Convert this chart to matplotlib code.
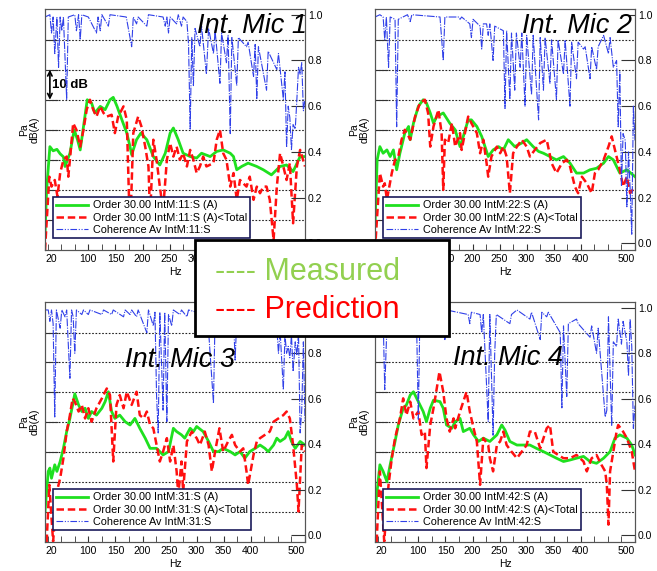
import matplotlib
matplotlib.use("Agg")
import matplotlib.pyplot as plt
from matplotlib.patches import Rectangle
from matplotlib.lines import Line2D
from matplotlib.ticker import MultipleLocator

plt.rcParams["font.family"] = ["Liberation Sans", "DejaVu Sans"]

# ---- data: (Hz, dB(A)) and (Hz, coherence) ----
green_mic1 = [(20, 5), (23, 20), (29, 34.4), (35, 33), (42, 33.5), (48, 32), (54, 31), (57, 27.8),
              (66, 32.2), (74, 40), (80, 36.7), (85, 33.3), (91, 41), (98, 50), (106, 48.9),
              (112, 45.6), (122, 47.8), (131, 46.7), (140, 50), (146, 50.8), (153, 47.8),
              (162, 43.3), (171, 38.9), (177, 34.4), (180, 31.7), (189, 36.7), (197, 38.9),
              (208, 36.7), (220, 31.1), (232, 28.3), (242, 32.2), (251, 38.9), (257, 40.6),
              (266, 36.7), (275, 32.2), (288, 31.1), (300, 30.6), (309, 32.2), (325, 31.1),
              (337, 32.8), (349, 33.3), (362, 32.2), (368, 31.1), (374, 26.7), (383, 27.8),
              (395, 28.9), (411, 27.8), (423, 26.7), (438, 25), (454, 27.8), (466, 28.3),
              (478, 26.1), (491, 31.1), (500, 31.1)]
red_mic1 = [(20, 0), (28, 24.4), (32, 21.1), (38, 23.3), (43, 17.8), (48, 25.6), (54, 30), (60, 31.1),
            (63, 24.4), (66, 30), (72, 42.2), (78, 40), (85, 34.4), (91, 40), (97, 46.7), (103, 50),
            (109, 46.7), (115, 44.4), (122, 47.8), (128, 45.6), (134, 44.4), (143, 45), (149, 38.9),
            (155, 44.4), (165, 47.8), (171, 43.3), (177, 5), (183, 38.9), (192, 44.4), (198, 41.1),
            (205, 34.4), (211, 27.8), (214, 11.1), (220, 36.7), (226, 30), (232, 21.1), (238, 13.3),
            (245, 30), (251, 35.6), (257, 31.1), (263, 34.4), (269, 30), (275, 32.2), (282, 27.8),
            (288, 33.3), (294, 30), (300, 25.6), (306, 27.8), (312, 31.1), (318, 27.8), (331, 28.9),
            (337, 36.7), (343, 40), (349, 32.2), (355, 30), (362, 21.1), (368, 25.6), (374, 16.7),
            (380, 23.3), (392, 21.1), (398, 24.4), (405, 16.7), (411, 21.1), (417, 18.9), (423, 21.1),
            (429, 21.1), (435, 16.7), (442, 3.3), (448, 21.1), (454, 32.2), (460, 27.8), (466, 23.3),
            (472, 28.9), (478, 8.9), (485, 27.8), (491, 33.3), (500, 27.8)]
coh_mic1 = [(20, 0.99), (29, 1.0), (32, 0.92), (35, 0.99), (38, 0.83), (42, 0.99), (45, 0.77), (48, 0.99),
            (51, 0.93), (54, 0.99), (60, 0.63), (63, 0.99), (75, 1.0), (78, 0.93), (82, 1.0), (85, 0.89),
            (88, 1.0), (100, 0.99), (115, 0.92), (118, 0.99), (122, 0.93), (125, 1.0), (137, 0.95),
            (140, 1.0), (170, 0.99), (180, 0.86), (183, 0.99), (189, 0.96), (192, 0.99), (208, 0.95),
            (211, 1.0), (238, 0.99), (242, 0.95), (245, 0.99), (248, 0.92), (251, 0.99), (263, 0.96),
            (266, 1.0), (272, 0.95), (275, 0.99), (282, 0.97), (285, 0.87), (288, 0.50), (291, 0.90),
            (294, 0.69), (297, 0.94), (306, 0.86), (309, 0.95), (318, 0.74), (322, 0.94), (331, 0.83),
            (334, 0.93), (343, 0.70), (346, 0.92), (355, 0.79), (358, 0.91), (362, 0.48), (365, 0.90),
            (374, 0.69), (377, 0.90), (392, 0.86), (395, 0.88), (405, 0.73), (408, 0.87), (411, 0.63),
            (414, 0.86), (429, 0.67), (432, 0.84), (448, 0.76), (451, 0.83), (460, 0.63), (463, 0.75),
            (466, 0.42), (469, 0.60), (472, 0.55), (475, 0.41), (478, 0.52), (482, 0.50), (485, 0.63),
            (488, 0.77), (491, 0.74), (494, 0.79), (497, 0.58), (500, 0.63)]

green_mic2 = [(20, 8), (24, 30), (29, 34.4), (35, 32.2), (42, 33.3), (48, 31.1), (54, 33.3), (60, 26.7),
              (66, 32.2), (69, 34.4), (75, 38.9), (82, 41.1), (85, 36.7), (91, 42.2), (100, 47.8),
              (109, 50), (115, 48.9), (122, 45.6), (128, 42.2), (134, 44.4), (146, 45.6), (158, 42.2),
              (168, 40), (177, 34.4), (183, 37.8), (192, 43.3), (198, 43.3), (208, 41.1), (217, 37.8),
              (229, 31.1), (238, 33.3), (248, 34.4), (257, 33.3), (266, 36.7), (278, 34.4),
              (291, 35.6), (300, 36.7), (312, 34.4), (322, 32.8), (331, 32.2), (343, 31.1), (355, 30),
              (368, 31.1), (380, 28.9), (392, 25.6), (405, 25.6), (417, 26.7), (429, 27.2), (442, 28.9),
              (451, 31.1), (460, 30), (472, 25.6), (485, 26.7), (500, 24.4)]
red_mic2 = [(20, 0), (29, 25.6), (35, 21.1), (38, 22.2), (42, 16.7), (51, 25.6), (57, 30), (63, 31.1),
            (69, 36.7), (75, 40), (82, 37.8), (85, 36.7), (94, 44.4), (103, 48.9), (112, 50), (118, 45.6),
            (122, 34.4), (128, 41.1), (137, 46.7), (143, 38.9), (146, 20), (149, 36.7), (155, 35.6),
            (162, 42.2), (168, 34.4), (177, 38.9), (180, 33.3), (192, 44.4), (198, 42.2), (208, 38.9),
            (214, 32.2), (220, 36.7), (226, 28.9), (229, 24.4), (235, 31.1), (245, 34.4), (251, 32.2),
            (257, 34.4), (263, 31.1), (269, 18.9), (275, 32.2), (282, 34.4), (291, 36.7), (300, 34.4),
            (306, 31.1), (315, 33.3), (325, 35.6), (337, 36.7), (346, 28.9), (355, 25.6), (365, 28.9),
            (374, 30), (380, 27.8), (389, 21.1), (395, 18.9), (402, 24.4), (411, 22.2), (420, 18.9),
            (426, 25.6), (432, 26.7), (442, 30), (451, 34.4), (457, 37.8), (463, 33.3), (472, 26.7),
            (478, 21.1), (485, 24.4), (491, 18.9), (500, 21.1)]
coh_mic2 = [(20, 0.99), (29, 1.0), (35, 0.99), (38, 0.89), (41, 0.99), (45, 0.77), (48, 0.99), (57, 0.98),
            (60, 0.51), (63, 0.98), (80, 1.0), (85, 0.97), (88, 1.0), (140, 0.99), (146, 0.80),
            (149, 0.99), (174, 0.99), (177, 0.98), (180, 0.99), (195, 0.96), (198, 0.90), (201, 0.98),
            (214, 0.95), (217, 0.85), (220, 0.96), (226, 0.96), (229, 0.91), (232, 0.96), (238, 0.80),
            (241, 0.95), (257, 0.93), (260, 0.59), (263, 0.93), (269, 0.63), (272, 0.92), (278, 0.67),
            (281, 0.92), (288, 0.77), (291, 0.92), (297, 0.60), (300, 0.91), (309, 0.65), (312, 0.91),
            (322, 0.54), (325, 0.90), (331, 0.67), (334, 0.90), (343, 0.70), (346, 0.89), (355, 0.63),
            (358, 0.89), (368, 0.74), (371, 0.89), (380, 0.60), (383, 0.88), (392, 0.72), (395, 0.88),
            (405, 0.85), (408, 0.86), (417, 0.72), (420, 0.86), (429, 0.76), (432, 0.86), (442, 0.91),
            (451, 0.83), (454, 0.90), (460, 0.77), (466, 0.80), (469, 0.51), (472, 0.75), (475, 0.25),
            (478, 0.48), (482, 0.45), (485, 0.16), (488, 0.40), (491, 0.24), (494, 0.04), (497, 0.60),
            (500, 0.45)]

green_mic3 = [(20, 10.2), (26, 23.6), (29, 24.7), (32, 21.3), (38, 25.8), (42, 23.6), (48, 26.9), (54, 31.3),
              (60, 36.9), (66, 41.3), (71, 45.8), (75, 49.5), (82, 45.8), (88, 43.6), (94, 44.7),
              (100, 41.3), (106, 43.6), (115, 42.4), (125, 44.7), (131, 46.9), (137, 50.2), (143, 43.6),
              (149, 41.3), (158, 42.4), (168, 40.2), (177, 39.1), (186, 41.3), (195, 38.0), (205, 34.7),
              (214, 31.3), (226, 31.3), (232, 30.2), (238, 29.1), (248, 30.2), (257, 38.0), (263, 36.9),
              (272, 35.8), (278, 34.7), (288, 38.0), (294, 36.9), (300, 38.6), (312, 36.9), (322, 33.6),
              (331, 30.2), (340, 30.2), (349, 31.3), (362, 30.2), (371, 29.1), (380, 30.2), (389, 28.0),
              (398, 30.2), (408, 31.3), (417, 32.4), (426, 31.3), (432, 30.2), (442, 32.4), (448, 34.7),
              (454, 33.6), (463, 34.7), (469, 36.9), (475, 33.6), (482, 31.3), (491, 33.6), (500, 32.4)]
red_mic3 = [(23, 0), (28, 19.1), (32, 8.0), (35, 0.2), (42, 16.9), (48, 21.3), (54, 28.0), (60, 36.9),
            (65, 41.3), (71, 48.0), (75, 46.9), (82, 43.6), (88, 45.8), (94, 41.3), (100, 44.7),
            (106, 40.2), (115, 44.7), (125, 48.0), (134, 51.3), (140, 49.1), (146, 26.9), (152, 45.8),
            (158, 49.1), (165, 44.7), (171, 50.2), (180, 45.8), (189, 50.2), (195, 42.4), (202, 41.3),
            (208, 43.6), (214, 39.1), (220, 38.0), (226, 32.4), (232, 26.9), (238, 30.2), (245, 34.7),
            (251, 26.9), (257, 32.4), (263, 23.6), (266, 15.8), (272, 26.9), (275, 16.9), (282, 33.6),
            (291, 36.9), (300, 34.7), (306, 32.4), (315, 36.9), (322, 32.4), (328, 23.6), (334, 30.2),
            (342, 38.0), (349, 30.2), (358, 33.6), (365, 35.8), (371, 32.4), (380, 30.2), (386, 31.3),
            (392, 23.6), (395, 19.1), (405, 29.1), (411, 33.6), (417, 34.7), (426, 35.8), (435, 36.9),
            (442, 40.2), (451, 41.3), (460, 42.4), (466, 43.6), (472, 41.3), (478, 32.4), (485, 19.1),
            (488, 10.2), (494, 32.4), (500, 30.2)]
coh_mic3 = [(20, 0.99), (26, 0.99), (29, 0.94), (32, 0.99), (35, 0.93), (38, 0.52), (41, 0.99), (48, 0.91),
            (51, 0.99), (57, 0.96), (60, 0.99), (66, 0.69), (69, 0.99), (72, 0.96), (75, 0.80), (78, 0.99),
            (88, 0.97), (91, 0.99), (100, 0.97), (103, 0.99), (125, 0.97), (128, 0.99), (143, 0.97),
            (146, 0.99), (165, 0.96), (168, 0.99), (177, 0.97), (180, 0.99), (189, 0.96), (192, 0.99),
            (208, 0.89), (211, 0.99), (220, 0.92), (223, 0.98), (226, 0.61), (229, 0.45), (232, 0.98),
            (238, 0.55), (241, 0.98), (245, 0.50), (248, 0.97), (254, 0.92), (257, 0.99), (269, 0.97),
            (272, 0.99), (282, 0.96), (285, 0.99), (300, 0.98), (320, 0.97), (331, 0.58), (334, 0.96),
            (368, 0.95), (371, 0.77), (374, 0.95), (411, 0.93), (414, 0.90), (417, 0.93), (448, 0.91),
            (451, 0.80), (454, 0.90), (460, 0.64), (463, 0.88), (466, 0.80), (469, 0.83), (472, 0.78),
            (475, 0.88), (478, 0.72), (482, 0.85), (485, 0.79), (488, 0.89), (491, 0.45), (494, 0.55),
            (497, 0.85), (500, 0.50)]

green_mic4 = [(20, 10.2), (29, 25.8), (35, 23.6), (42, 20.2), (48, 25.8), (57, 33.6), (63, 39.1), (72, 44.7),
              (78, 45.8), (85, 49.1), (91, 50.2), (97, 48.0), (109, 43.6), (115, 40.2), (122, 44.7),
              (128, 47.4), (140, 46.9), (146, 44.7), (152, 39.1), (162, 38.0), (168, 40.2), (177, 41.3),
              (183, 36.9), (195, 38.0), (202, 35.8), (211, 33.6), (220, 34.7), (232, 33.6), (245, 35.8),
              (254, 39.1), (260, 37.4), (269, 33.6), (282, 32.4), (294, 32.4), (306, 32.4), (318, 31.3),
              (331, 30.2), (343, 29.1), (355, 28.0), (368, 26.9), (380, 27.4), (392, 28.0), (405, 28.6),
              (417, 26.9), (429, 26.3), (442, 28.0), (454, 30.2), (463, 34.7), (472, 35.8), (485, 34.7),
              (494, 32.4), (500, 29.1)]
red_mic4 = [(23, 0), (29, 23.6), (37, 0.2), (45, 19.1), (51, 28.0), (57, 34.7), (66, 41.3), (72, 48.0),
            (78, 42.4), (85, 46.9), (91, 41.3), (100, 43.6), (106, 35.8), (112, 36.9), (115, 24.7),
            (122, 39.1), (128, 44.7), (134, 51.3), (139, 56.9), (146, 50.2), (152, 41.3), (158, 36.9),
            (165, 41.3), (168, 38.0), (177, 43.6), (183, 46.9), (189, 50.2), (195, 43.6), (202, 38.0),
            (208, 33.6), (214, 19.1), (220, 34.7), (229, 32.4), (232, 28.0), (238, 23.6), (245, 32.4),
            (251, 33.6), (257, 36.9), (263, 32.4), (272, 30.2), (282, 28.0), (291, 30.2), (300, 32.4),
            (306, 36.9), (315, 36.9), (325, 31.3), (337, 38.0), (343, 39.1), (349, 30.2), (358, 29.1),
            (368, 28.0), (380, 28.0), (392, 29.1), (405, 26.9), (411, 23.6), (420, 28.0), (429, 29.1),
            (438, 25.8), (445, 23.6), (448, 19.1), (451, 5.8), (454, 23.6), (460, 30.2), (466, 36.9),
            (469, 39.1), (478, 36.9), (485, 34.7), (494, 30.2), (500, 23.6)]
coh_mic4 = [(20, 0.99), (32, 0.99), (35, 0.96), (38, 0.64), (41, 0.85), (44, 0.99), (60, 0.98), (94, 0.99),
            (97, 0.90), (100, 0.51), (103, 0.99), (128, 0.98), (146, 0.99), (149, 0.86), (152, 0.99),
            (192, 0.97), (195, 0.93), (198, 0.98), (214, 0.97), (217, 0.89), (220, 0.97), (229, 0.50),
            (232, 0.97), (238, 0.44), (241, 0.80), (244, 0.97), (269, 0.93), (272, 0.97), (282, 0.99),
            (306, 0.95), (309, 0.98), (325, 0.86), (328, 0.98), (337, 0.96), (340, 0.98), (362, 0.89),
            (365, 0.56), (368, 0.92), (374, 0.61), (377, 0.93), (392, 0.95), (395, 0.93), (417, 0.87),
            (420, 0.92), (429, 0.80), (432, 0.91), (442, 0.61), (445, 0.52), (448, 0.55), (451, 0.96),
            (457, 0.48), (460, 0.85), (466, 0.83), (469, 0.95), (475, 0.84), (478, 0.94), (485, 0.85),
            (488, 0.70), (491, 0.95), (494, 0.83), (497, 0.47), (500, 0.57)]

channels = ["11", "22", "31", "42"]
titles = ["Int. Mic 1", "Int. Mic 2", "Int. Mic 3", "Int. Mic 4"]
x_ticks = [20, 100, 150, 200, 250, 300, 350, 400, 500]
db_grid = [10, 20, 30, 40, 50, 60, 70]
coh_ticks = [0.0, 0.2, 0.4, 0.6, 0.8, 1.0]

GREEN = "#1fe01f"
RED = "#ff1010"
BLUE = "#3040e8"
COH_LS = (0, (7, 1.2, 1, 1.2))

W, H = 657, 571
fig = plt.figure(figsize=(W / 100, H / 100), dpi=100)

# axes boxes in pixels: left, top, right, bottom
boxes = [(45, 9, 305, 250), (375, 9, 635, 250), (45, 302, 305, 542), (375, 302, 635, 542)]
series = [(green_mic1, red_mic1, coh_mic1), (green_mic2, red_mic2, coh_mic2),
          (green_mic3, red_mic3, coh_mic3), (green_mic4, red_mic4, coh_mic4)]

for (l, t, r, b), (g, rd, ch), chan in zip(boxes, series, channels):
    ax = fig.add_axes([l / W, 1 - b / H, (r - l) / W, (b - t) / H])
    ax.set_xlim(20, 500)
    ax.set_ylim(0, 80.2)
    ax.set_yticks(db_grid)
    ax.grid(axis="y", linestyle=(0, (1.5, 1.5)), color="#222222", lw=0.8)
    ax.tick_params(axis="y", direction="in", length=9, labelleft=False, color="#333333")
    ax.set_xticks(x_ticks)
    ax.set_xticklabels([str(v) for v in x_ticks], fontsize=7.5)
    ax.xaxis.set_minor_locator(MultipleLocator(25))
    ax.tick_params(axis="x", which="both", direction="in", length=4, pad=3, color="#333333")
    labs = ax.get_xticklabels()
    labs[0].set_ha("left")
    labs[-1].set_ha("right")
    ax.set_xlabel("Hz", fontsize=7.5, labelpad=2)
    ax.set_ylabel("Pa\ndB(A)", fontsize=7.5, labelpad=4, linespacing=1.1)
    for s in ax.spines.values():
        s.set_color("#555555")
        s.set_linewidth(0.8)

    gf, gv = zip(*g)
    rf, rv = zip(*rd)
    ax.plot(gf, gv, color=GREEN, lw=2.0, zorder=3)
    ax.plot(rf, rv, color=RED, lw=1.8, ls=(0, (3, 1.5)), zorder=4)

    ax2 = ax.twinx()
    ax2.set_ylim(-0.029, 1.025)
    ax2.set_yticks(coh_ticks)
    ax2.set_yticklabels([f"{v:.1f}" for v in coh_ticks], fontsize=7.5)
    ax2.tick_params(axis="y", direction="in", length=10, pad=2, color="#333333")
    for s in ax2.spines.values():
        s.set_color("#555555")
        s.set_linewidth(0.8)
    cf, cv = zip(*ch)
    ax2.plot(cf, cv, color=BLUE, lw=0.8, ls=COH_LS, zorder=2)

    handles = [Line2D([], [], color=GREEN, lw=2.0),
               Line2D([], [], color=RED, lw=1.8, ls=(0, (3, 1.5))),
               Line2D([], [], color=BLUE, lw=0.8, ls=(0, (6, 1.5, 1, 1.5, 1, 1.5)))]
    labels = [f"Order 30.00 IntM:{chan}:S (A)", f"Order 30.00 IntM:{chan}:S (A)<Total",
              f"Coherence Av IntM:{chan}:S"]
    leg = ax2.legend(handles, labels, loc="lower left", bbox_to_anchor=(0.031, 0.05),
                     borderaxespad=0, fontsize=7.8, handlelength=2.9, handletextpad=0.45,
                     labelspacing=0.2, borderpad=0.3, fancybox=False, framealpha=1)
    leg.get_frame().set_edgecolor("#1a1a5a")
    leg.get_frame().set_linewidth(1.2)

    if chan == "11":
        ax.annotate("", xy=(29, 60), xytext=(29, 50),
                    arrowprops=dict(arrowstyle="<->", color="black", lw=1.2,
                                    shrinkA=0, shrinkB=0, mutation_scale=8))
        ax.text(33, 55, "10 dB", fontsize=9.5, fontweight="bold", va="center", ha="left")

# panel captions
fig.text(307 / W, 1 - 33 / H, titles[0], fontsize=19.5, style="italic", ha="right", va="baseline")
fig.text(632 / W, 1 - 33 / H, titles[1], fontsize=19.5, style="italic", ha="right", va="baseline")
fig.text(125 / W, 1 - 367 / H, titles[2], fontsize=19.5, style="italic", ha="left", va="baseline")
fig.text(453 / W, 1 - 365 / H, titles[3], fontsize=19.5, style="italic", ha="left", va="baseline")

# overlay key box
fig.add_artist(Rectangle((195 / W, 1 - 336 / H), 254 / W, 96 / H, transform=fig.transFigure,
                         facecolor="white", edgecolor="black", lw=2, zorder=10))
fig.text(215 / W, 1 - 280 / H, "---- Measured", fontsize=22, color="#92d050",
         va="baseline", ha="left", zorder=11)
fig.text(215 / W, 1 - 318 / H, "---- Prediction", fontsize=22, color="#ff0000",
         va="baseline", ha="left", zorder=11)

fig.savefig("out.png", dpi=100)
